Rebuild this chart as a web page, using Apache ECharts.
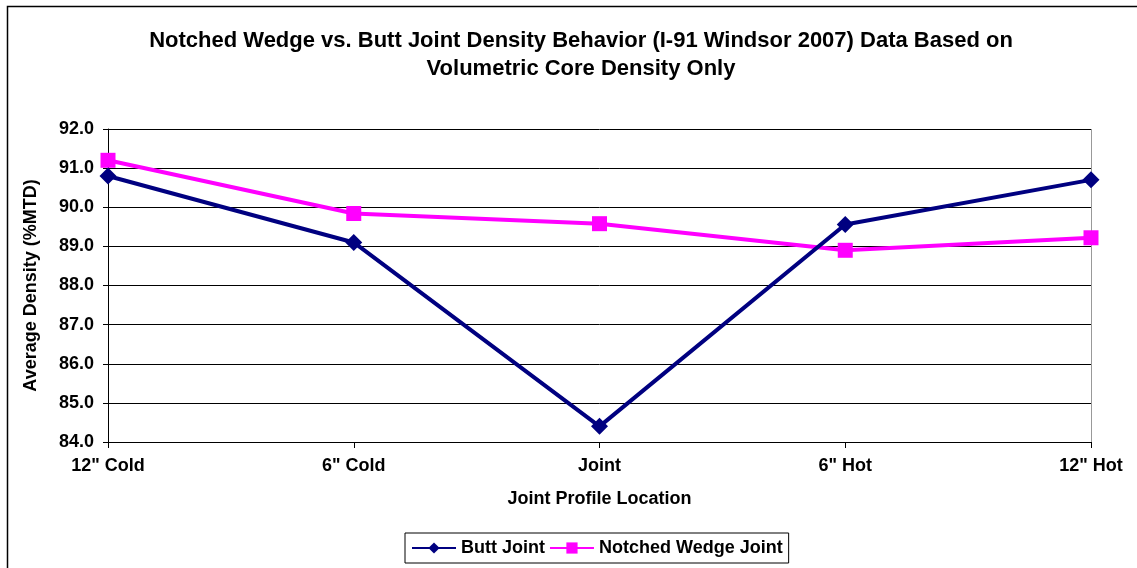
<!DOCTYPE html>
<html>
<head>
<meta charset="utf-8">
<script src="https://cdn.jsdelivr.net/npm/echarts@6/dist/echarts.min.js"></script>
<style>
  html, body { margin: 0; padding: 0; background: #fff; }
  #chart { width: 1137px; height: 568px; }
</style>
</head>
<body>
<div id="chart"></div>
<script>
// categories along the joint profile
const locations = ['12" Cold', '6" Cold', 'Joint', '6" Hot', '12" Hot'];
// average density (%MTD)
const buttJoint = [90.8, 89.1, 84.4, 89.56, 90.7];
const notchedWedge = [91.2, 89.84, 89.58, 88.9, 89.22];

var myChart = echarts.init(document.getElementById('chart'));
var font = 'Arial, "Liberation Sans", sans-serif';
var boldText = { fontFamily: font, fontSize: 18, fontWeight: 'bold', color: '#000' };

var option = {
    animation: false,
    backgroundColor: '#fff',
    graphic: [
        {
            type: 'rect',
            shape: { x: 7.5, y: 6.5, width: 1200, height: 700 },
            style: { fill: 'none', stroke: '#000', lineWidth: 1.5 },
            silent: true
        },
        {
            // plot frame on the right
            type: 'line',
            shape: { x1: 1091.5, y1: 129, x2: 1091.5, y2: 442 },
            style: { stroke: '#999', lineWidth: 1 },
            silent: true
        }
    ],
    title: {
        text: 'Notched Wedge vs. Butt Joint Density Behavior (I-91 Windsor 2007) Data Based on\nVolumetric Core Density Only',
        left: 576,
        top: 22,
        textAlign: 'center',
        textStyle: {
            fontFamily: font,
            fontSize: 22,
            fontWeight: 'bold',
            color: '#000',
            lineHeight: 28
        }
    },
    legend: {
        top: 533,
        left: 405,
        itemWidth: 44,
        itemHeight: 14,
        itemGap: 4,
        padding: [6, 6],
        borderColor: '#000',
        borderWidth: 1,
        textStyle: boldText,
        data: ['Butt Joint', 'Notched Wedge Joint']
    },
    grid: {
        left: 108,
        right: 46,
        top: 129,
        bottom: 126
    },
    xAxis: {
        type: 'category',
        data: locations,
        boundaryGap: false,
        name: 'Joint Profile Location',
        nameLocation: 'middle',
        nameGap: 48,
        nameTextStyle: boldText,
        axisLine: { lineStyle: { color: '#000', width: 1 } },
        axisTick: { show: true, alignWithLabel: true, length: 6, lineStyle: { color: '#000' } },
        axisLabel: Object.assign({ margin: 15 }, boldText),
        splitLine: { show: false }
    },
    yAxis: {
        type: 'value',
        min: 84,
        max: 92,
        interval: 1,
        name: 'Average Density (%MTD)',
        nameLocation: 'middle',
        nameGap: 68,
        nameTextStyle: boldText,
        axisLine: { show: true, lineStyle: { color: '#000', width: 1 } },
        axisTick: { show: true, length: 5, lineStyle: { color: '#000' } },
        axisLabel: Object.assign({
            margin: 14,
            formatter: function (v) { return v.toFixed(1); }
        }, boldText),
        splitLine: { show: true, lineStyle: { color: '#000', width: 1 } }
    },
    series: [
        {
            name: 'Butt Joint',
            type: 'line',
            data: buttJoint,
            symbol: 'diamond',
            symbolSize: 17,
            itemStyle: { color: '#000080' },
            lineStyle: { color: '#000080', width: 4 },
            z: 3
        },
        {
            name: 'Notched Wedge Joint',
            type: 'line',
            data: notchedWedge,
            symbol: 'rect',
            symbolSize: 15,
            itemStyle: { color: '#FF00FF' },
            lineStyle: { color: '#FF00FF', width: 4 },
            z: 2
        }
    ]
};

option && myChart.setOption(option);
</script>
</body>
</html>
